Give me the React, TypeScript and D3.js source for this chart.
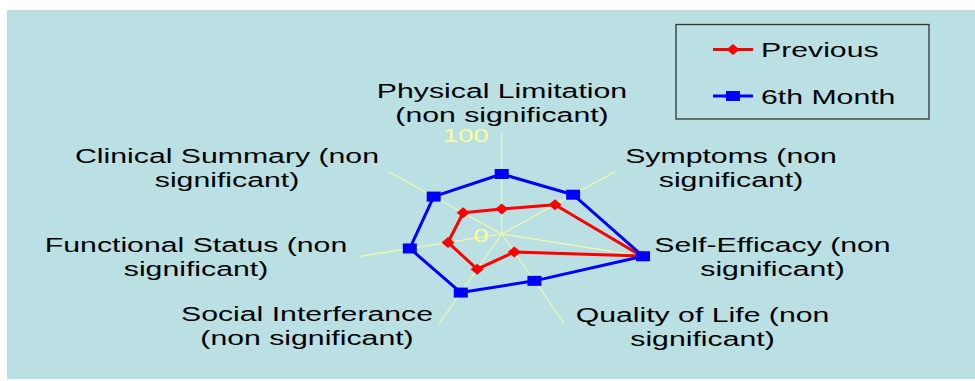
import React from "react";
import * as d3 from "d3";

const categories = [
  ["Physical Limitation", "(non significant)"],
  ["Symptoms (non", "significant)"],
  ["Self-Efficacy (non", "significant)"],
  ["Quality of Life (non", "significant)"],
  ["Social Interferance", "(non significant)"],
  ["Functional Status (non", "significant)"],
  ["Clinical Summary (non", "significant)"],
];
const previousValues = [25, 47, 99, 20, 39, 38, 34];
const sixthMonthValues = [60, 63, 100, 52, 65, 65, 60];
const seriesNames = ["Previous", "6th Month"];
const tickValues = [0, 100];

// layout for category labels: centre x and first baseline
const labelLayout = [
  { x: 502, y: 98 },
  { x: 731, y: 163 },
  { x: 772.5, y: 252 },
  { x: 702.5, y: 322 },
  { x: 307, y: 321 },
  { x: 196, y: 252 },
  { x: 227, y: 163 },
];

const W = 975;
const H = 381;
const cx = 501.7;
const cy = 234;
const RX = 145;
const RY = 100;
const SX = 1.44;
const FONT = "'Liberation Sans', Arial, sans-serif";

const r = d3.scaleLinear().domain([0, 100]).range([0, 1]);
const angle = d3
  .scaleLinear()
  .domain([0, categories.length])
  .range([0, 2 * Math.PI]);

const px = (i: number, v: number) => cx + RX * r(v) * Math.sin(angle(i));
const py = (i: number, v: number) => cy - RY * r(v) * Math.cos(angle(i));

const line = d3
  .line<number>()
  .x((v, i) => px(i, v))
  .y((v, i) => py(i, v))
  .curve(d3.curveLinearClosed);

const STEXT = (
  x: number,
  y: number,
  s: string,
  anchor: string,
  fill = "#000",
  size = 21,
  key?: string | number
) => (
  <text
    key={key}
    transform={`translate(${x},${y}) scale(${SX},1)`}
    textAnchor={anchor as any}
    fontFamily={FONT}
    fontSize={size}
    fill={fill}
  >
    {s}
  </text>
);

const Diamond = ({ x, y }: { x: number; y: number }) => (
  <path
    d={`M${x},${y - 5.5} L${x + 6.5},${y} L${x},${y + 5.5} L${x - 6.5},${y} Z`}
    fill="#ff0000"
  />
);
const Square = ({ x, y }: { x: number; y: number }) => (
  <rect x={x - 7} y={y - 5} width={14} height={10} fill="#0000ff" />
);

export default function App() {
  const series = [
    { name: seriesNames[0], values: previousValues, color: "#ff0000", M: Diamond },
    { name: seriesNames[1], values: sixthMonthValues, color: "#0000ff", M: Square },
  ];
  return (
    <svg
      width={W}
      height={H}
      style={{ position: "absolute", left: 0, top: 0 }}
    >
      <rect x={0} y={0} width={W} height={H} fill="#ffffff" />
      <rect x={7} y={10} width={W - 7} height={H - 12} fill="#bae0e3" />

      {/* spokes */}
      {categories.map((_, i) => (
        <line
          key={i}
          x1={cx}
          y1={cy}
          x2={px(i, 100)}
          y2={py(i, 100)}
          stroke="#ffff99"
          strokeWidth={1}
        />
      ))}

      {/* tick labels */}
      {tickValues.map((t) =>
        STEXT(cx - 13, py(0, t) + 8, String(t), "end", "#ffff99", 19, "t" + t)
      )}

      {/* series */}
      {series.map((s) => (
        <g key={s.name}>
          <path
            d={line(s.values) || ""}
            fill="none"
            stroke={s.color}
            strokeWidth={3}
            strokeLinejoin="round"
          />
          {s.values.map((v, i) => (
            <s.M key={i} x={px(i, v)} y={py(i, v)} />
          ))}
        </g>
      ))}

      {/* category labels */}
      {categories.map((c, i) => (
        <g key={"l" + i}>
          {c.map((ln, j) =>
            STEXT(labelLayout[i].x, labelLayout[i].y + j * 24, ln, "middle", "#000", 21, j)
          )}
        </g>
      ))}

      {/* legend */}
      <rect
        x={676}
        y={24.5}
        width={253}
        height={94.5}
        fill="none"
        stroke="#333"
        strokeWidth={1.3}
      />
      {series.map((s, k) => {
        const ly = 49.5 + k * 46.5;
        return (
          <g key={"lg" + k}>
            <line x1={713} x2={753} y1={ly} y2={ly} stroke={s.color} strokeWidth={3} />
            <s.M x={733} y={ly} />
            {STEXT(761, ly + 7.5, s.name, "start", "#000", 21)}
          </g>
        );
      })}
    </svg>
  );
}
